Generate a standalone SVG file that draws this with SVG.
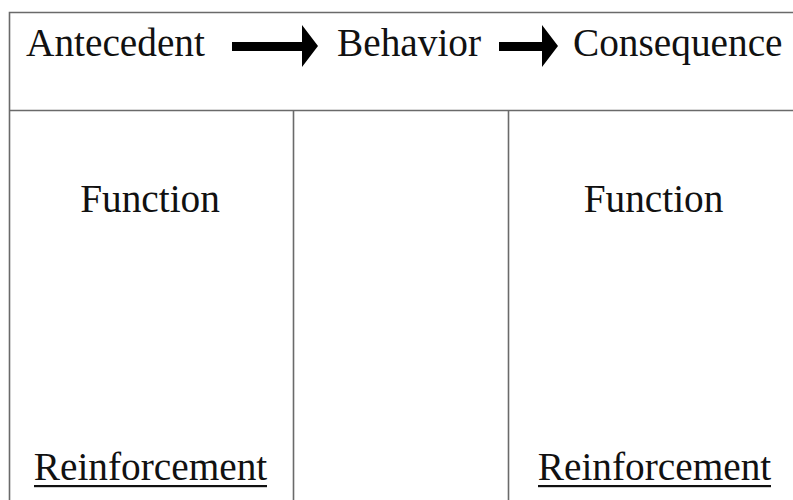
<svg xmlns="http://www.w3.org/2000/svg" width="793" height="500" viewBox="0 0 793 500">
<style>
.t{font-family:"Liberation Serif","Times New Roman",serif;font-size:39.3px;fill:#111}
.m{text-anchor:middle}
.ln{stroke:#6a6a6a;stroke-width:1.6;fill:none}
.ar{fill:#000}
</style>
<rect width="793" height="500" fill="#fff"/>
<g id="grid">
<path class="ln" d="M9.5,500 V12.5 H793 M9.5,110.5 H793 M293.5,110.5 V500 M508.5,110.5 V500"/>
</g>
<g id="antecedent"><text class="t" x="26" y="56">Antecedent</text></g>
<g id="behavior"><text class="t" x="337" y="56">Behavior</text></g>
<g id="consequence"><text class="t" x="573" y="56">Consequence</text></g>
<g id="connectors">
<polygon class="ar" points="232,42 302,42 302,25 318,46 302,67 302,51 232,51"/>
<polygon class="ar" points="499,42 542,42 542,25 558,46 542,67 542,51 499,51"/>
</g>
<g id="function-left"><text class="t m" x="150" y="212">Function</text></g>
<g id="function-right"><text class="t m" x="653.5" y="212">Function</text></g>
<g id="reinforcement-left"><text class="t m" x="150.5" y="480">Reinforcement</text><rect x="34" y="485" width="233" height="2.2" fill="#111"/></g>
<g id="reinforcement-right"><text class="t m" x="654.5" y="480">Reinforcement</text><rect x="538" y="485" width="233" height="2.2" fill="#111"/></g>
</svg>
